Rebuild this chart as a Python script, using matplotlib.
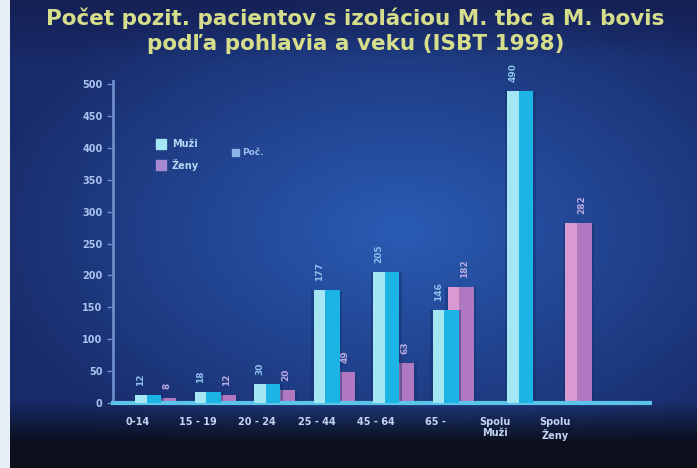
import numpy as np
import matplotlib
matplotlib.use('Agg')
import matplotlib.pyplot as plt
from matplotlib.patches import Rectangle

# data: number of positive patients by age group and sex
categories = ['0-14', '15 - 19', '20 - 24', '25 - 44', '45 - 64', '65 -',
              'Spolu\nMuži', 'Spolu\nŽeny']
muzi = [12, 18, 30, 177, 205, 146, 490, None]
zeny = [8, 12, 20, 49, 63, 182, None, 282]
yticks = list(range(0, 501, 50))

W, H = 697, 468
fig = plt.figure(figsize=(W / 100, H / 100), dpi=100)

# slide background: blue glow in the middle, dark toward the edges
bg = fig.add_axes([0, 0, 1, 1])
yy, xx = np.mgrid[0:H, 0:W].astype(float)
d = np.sqrt(((xx - 400) / 440) ** 2 + ((yy - 230) / 270) ** 2)
t = np.clip(d, 0, 1)[..., None]
center = np.array([0x2a, 0x5c, 0xb4]) / 255
edge = np.array([0x18, 0x2a, 0x68]) / 255
img = center * (1 - t) + edge * t
dark = np.array([0x0b, 0x10, 0x1c]) / 255
f = np.clip((yy - 400) / 42, 0, 1)[..., None]
img = img * (1 - f) + dark * f
top = np.array([0x14, 0x1c, 0x4c]) / 255
g = np.clip((60 - yy) / 60, 0, 1)[..., None] * 0.7
img = img * (1 - g) + top * g
img[:, :10] = np.array([0xe8, 0xee, 0xf6]) / 255
bg.imshow(img, aspect='auto', extent=[0, W, H, 0])
bg.set_xlim(0, W); bg.set_ylim(H, 0)
bg.axis('off')

fig.text(0.51, 0.962, 'Počet pozit. pacientov s izoláciou M. tbc a M. bovis',
         ha='center', va='center', color='#d6de8c', fontsize=15.5, fontweight='bold')
fig.text(0.51, 0.905, 'podľa pohlavia a veku (ISBT 1998)',
         ha='center', va='center', color='#d6de8c', fontsize=15.5, fontweight='bold')

ax = fig.add_axes([113 / W, 65 / H, (650 - 113) / W, (403 - 81) / H])
ax.patch.set_alpha(0)
ax.set_xlim(-0.42, 8.6)
ax.set_ylim(0, 505)

x = np.arange(len(categories))
bw = 0.44

def gradient_bar(xc, h, c_light, c_dark, z):
    # two-tone column: light face on the left, saturated side on the right
    ax.bar(xc, h, width=bw + 0.08, color='#14306e', alpha=0.45, zorder=z - 0.5, linewidth=0)
    ax.bar(xc, h, width=bw, color=c_light, zorder=z, linewidth=0)
    ax.bar(xc + bw * 0.22, h, width=bw * 0.56, color=c_dark, zorder=z + 0.1, linewidth=0)

for i, v in enumerate(zeny):
    if v is None:
        continue
    xc = i + (0.4 if muzi[i] is None else 0.42)
    gradient_bar(xc, v, '#d89ad0', '#b078c0', 2)
    ax.text(xc + 0.06, v + 14, str(v), rotation=90, ha='center', va='bottom',
            color='#b8a8e0', fontsize=6.5, fontweight='bold', zorder=5)

for i, v in enumerate(muzi):
    if v is None:
        continue
    xc = i + (0.42 if zeny[i] is None else 0.17)
    gradient_bar(xc, v, '#a4e6f2', '#1cb4e4', 3)
    ax.text(xc - 0.12, v + 14, str(v), rotation=90, ha='center', va='bottom',
            color='#8cc0ec', fontsize=6.5, fontweight='bold', zorder=5)

for s in ['top', 'right']:
    ax.spines[s].set_visible(False)
ax.spines['left'].set_color('#6c8cc8')
ax.spines['left'].set_linewidth(2)
ax.spines['bottom'].set_color('#5cc4e8')
ax.spines['bottom'].set_linewidth(3)

ax.set_yticks(yticks)
ax.set_yticklabels([str(v) for v in yticks], color='#a8c4ee', fontsize=7, fontweight='bold')
ax.set_xticks(x)
ax.set_xticklabels(categories, color='#c4d2f2', fontsize=7, fontweight='bold', va='top')
ax.tick_params(axis='y', colors='#6c8cc8', labelcolor='#a8c4ee', length=4, width=1)
ax.tick_params(axis='x', length=0, pad=10)

# legend
ax.add_patch(Rectangle((0.08, 0.79), 0.018, 0.03, transform=ax.transAxes,
                       color='#a4e6f2', zorder=6))
ax.text(0.11, 0.805, 'Muži', transform=ax.transAxes, color='#b4d4f4', fontsize=7,
        fontweight='bold', va='center')
ax.add_patch(Rectangle((0.08, 0.725), 0.018, 0.03, transform=ax.transAxes,
                       color='#a88ad4', zorder=6))
ax.text(0.11, 0.74, 'Ženy', transform=ax.transAxes, color='#b4d4f4', fontsize=7,
        fontweight='bold', va='center')
ax.add_patch(Rectangle((0.222, 0.768), 0.012, 0.02, transform=ax.transAxes,
                       color='#8cb4e8', zorder=6))
ax.text(0.24, 0.778, 'Poč.', transform=ax.transAxes, color='#a0c0ee', fontsize=6.5,
        fontweight='bold', va='center')

fig.savefig('out.png', dpi=100)
